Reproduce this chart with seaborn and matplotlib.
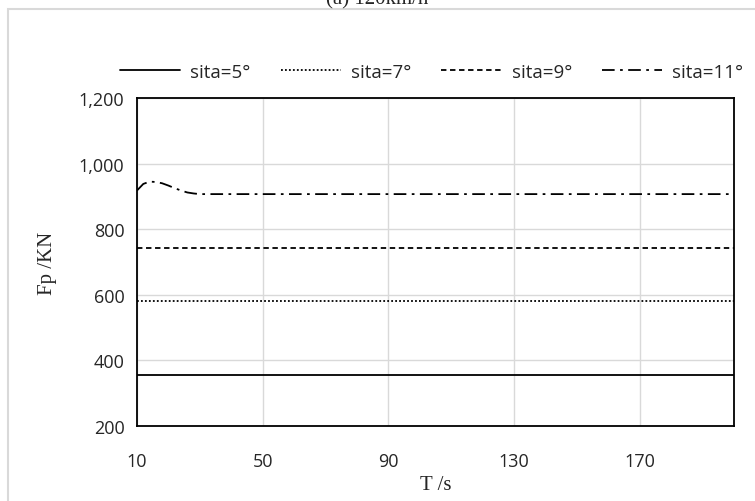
import matplotlib
matplotlib.use("Agg")
import matplotlib.pyplot as plt
import matplotlib.patches as mpatches
from matplotlib.ticker import FuncFormatter
import seaborn as sns
import pandas as pd

# ---- data ----
T = [10, 12, 14, 16, 18, 20, 22, 24, 26, 28, 30, 50, 90, 130, 170, 200]
sita5 = [355, 355, 355, 355, 355, 355, 355, 355, 355, 355, 355, 355, 355, 355, 355, 355]
sita7 = [581, 581, 581, 581, 581, 581, 581, 581, 581, 581, 581, 581, 581, 581, 581, 581]
sita9 = [743, 743, 743, 743, 743, 743, 743, 743, 743, 743, 743, 743, 743, 743, 743, 743]
sita11 = [918, 938, 945, 944, 940, 933, 925, 918, 912, 909, 907, 907, 907, 907, 907, 907]
series_names = ["sita=5°", "sita=7°", "sita=9°", "sita=11°"]
yticks = [200, 400, 600, 800, 1000, 1200]
xticks = [10, 50, 90, 130, 170]
title = "(a) 120km/h"

sns.set_style("white")
plt.rcParams["font.family"] = ["Open Sans", "DejaVu Sans"]

fig = plt.figure(figsize=(7.55, 5.02), dpi=100)
ax = fig.add_axes([137 / 755, 1 - 427 / 502, (734 - 137) / 755, (427 - 99) / 502])

styles = ["-", (0, (1, 1.2)), (0, (3, 2)), (0, (7, 3, 1.5, 3))]
for name, vals, ls in zip(series_names, [sita5, sita7, sita9, sita11], styles):
    df = pd.DataFrame({"T": T, "Fp": vals})
    sns.lineplot(data=df, x="T", y="Fp", ax=ax, color="black", linewidth=1.3,
                 linestyle=ls, label=name)

ax.set_xlim(10, 200)
ax.set_ylim(200, 1200)
ax.set_xticks(xticks)
ax.set_yticks(yticks)
ax.yaxis.set_major_formatter(FuncFormatter(lambda v, p: f"{int(v):,}"))
ax.grid(True, color="#d9d9d9", linewidth=1.0)
ax.set_axisbelow(True)
for s in ax.spines.values():
    s.set_color("black")
    s.set_linewidth(1.3)
ax.tick_params(axis="y", length=6, width=1.3, color="black", labelsize=13, pad=3)
ax.tick_params(axis="x", length=0, labelsize=13, pad=19)
ax.set_xlabel("T /s", family="Liberation Serif", fontsize=15, labelpad=3)
ax.set_ylabel("Fp /KN", family="Liberation Serif", fontsize=15, labelpad=16)

ax.legend(loc="center", bbox_to_anchor=(0.572, 1 - 73 / 502), bbox_transform=fig.transFigure,
          ncol=4, frameon=False, fontsize=13.5, handlelength=3.2, handletextpad=0.55,
          columnspacing=1.6)

# outer chart-area border (light gray), partially cropped
fig.patches.append(mpatches.Rectangle((8 / 755, -0.1), 1.2, 1 - 10 / 502 + 0.1,
                                      transform=fig.transFigure, fill=False,
                                      edgecolor="#d9d9d9", linewidth=1.5))
fig.text(0.5, 1 - 4 / 502, title, ha="center", va="baseline",
         family="Liberation Serif", fontsize=15)

fig.savefig("out.png", dpi=100)
